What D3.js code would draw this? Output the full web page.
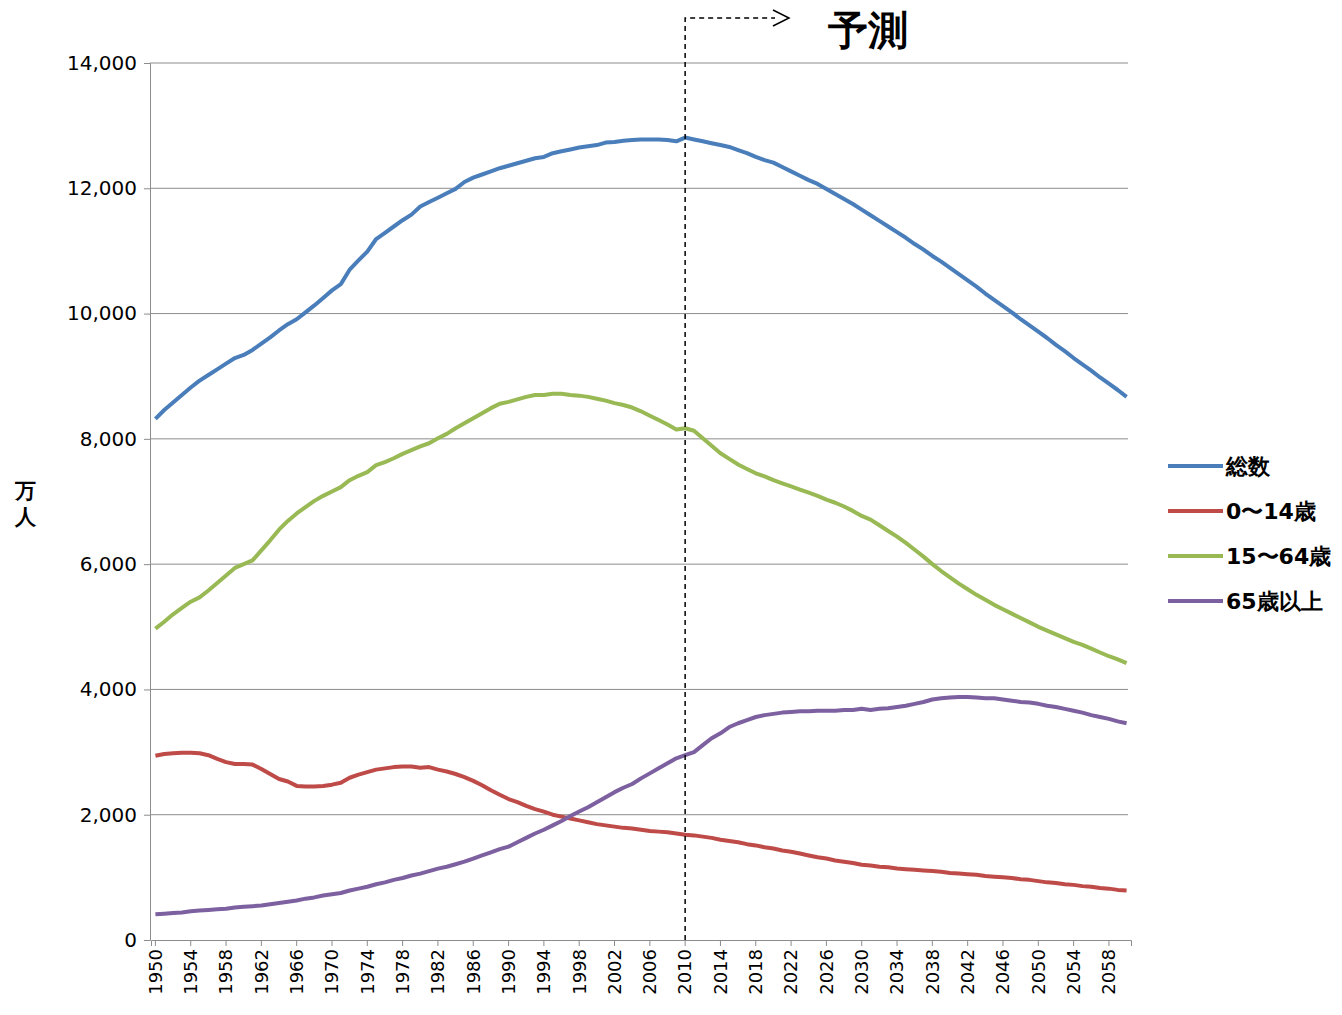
<!DOCTYPE html>
<html><head><meta charset="utf-8">
<script src="https://cdn.jsdelivr.net/npm/d3@7"></script>
<style>body{margin:0;background:#fff}text{font-family:"DejaVu Sans",sans-serif}</style>
</head><body><svg id="c" width="1342" height="1015"></svg>
<script>
const years = d3.range(1950, 2061);
const total = [8320,8460,8580,8700,8820,8930,9020,9110,9200,9290,
9340,9420,9520,9620,9730,9830,9910,10020,10130,10250,
10370,10470,10700,10850,10990,11190,11290,11390,11490,11580,
11710,11780,11850,11920,11990,12100,12170,12220,12270,12320,
12360,12400,12440,12480,12500,12560,12590,12620,12650,12670,
12690,12730,12740,12760,12770,12780,12780,12780,12770,12750,
12810,12780,12750,12720,12690,12660,12610,12560,12500,12450,
12410,12340,12270,12200,12130,12070,11990,11910,11830,11750,
11660,11570,11480,11390,11300,11210,11110,11020,10920,10830,
10730,10630,10530,10430,10320,10220,10120,10020,9910,9810,
9710,9610,9500,9400,9290,9190,9090,8980,8880,8780,8670];
const age0to14 = [2940,2970,2980,2990,2990,2980,2950,2890,2840,2810,
2810,2800,2730,2650,2570,2530,2460,2450,2450,2460,
2480,2510,2590,2640,2680,2720,2740,2760,2770,2770,
2750,2760,2720,2690,2650,2600,2540,2470,2390,2320,
2250,2200,2140,2090,2050,2000,1970,1940,1910,1880,
1850,1830,1810,1790,1780,1760,1740,1730,1720,1700,
1680,1670,1650,1630,1600,1580,1560,1530,1510,1480,
1460,1430,1410,1380,1350,1320,1300,1270,1250,1230,
1200,1190,1170,1160,1140,1130,1120,1110,1100,1090,
1070,1060,1050,1040,1020,1010,1000,990,970,960,
940,920,910,890,880,860,850,830,820,800,790];
const age15to64 = [4970,5080,5200,5300,5400,5470,5580,5700,5820,5940,
6000,6060,6220,6380,6550,6690,6810,6910,7010,7090,
7160,7230,7340,7410,7470,7580,7630,7690,7760,7820,
7880,7930,8010,8080,8170,8250,8330,8410,8490,8560,
8590,8630,8670,8700,8700,8720,8720,8700,8690,8670,
8640,8610,8570,8540,8500,8440,8370,8300,8230,8150,
8170,8130,8010,7890,7770,7680,7590,7520,7450,7400,
7340,7290,7240,7190,7140,7090,7030,6980,6920,6850,
6770,6710,6620,6530,6440,6340,6230,6120,6000,5890,
5790,5690,5600,5510,5430,5350,5280,5210,5140,5070,
5000,4940,4880,4820,4760,4710,4650,4590,4530,4480,4420];
const age65plus = [410,420,430,440,460,470,480,490,500,520,
530,540,550,570,590,610,630,660,680,710,
730,750,790,820,850,890,920,960,990,1030,
1060,1100,1140,1170,1210,1250,1300,1350,1400,1450,
1490,1560,1630,1700,1760,1830,1900,1980,2050,2120,
2200,2280,2360,2430,2490,2580,2660,2740,2820,2900,
2950,3000,3110,3220,3300,3400,3460,3510,3560,3590,
3610,3630,3640,3650,3650,3660,3660,3660,3670,3670,
3690,3670,3690,3700,3720,3740,3770,3800,3840,3860,
3870,3880,3880,3870,3860,3860,3840,3820,3800,3790,
3770,3740,3720,3690,3660,3630,3590,3560,3530,3490,3460];
const seriesNames = ['総数', '0〜14歳', '15〜64歳', '65歳以上'];
const seriesColors = ['#4a7ebb', '#be4b48', '#98b954', '#7d60a0'];
const yTicks = [0, 2000, 4000, 6000, 8000, 10000, 12000, 14000];

const svg = d3.select('#c');
const x = d3.scaleBand().domain(years).range([151, 1131]);
const y = d3.scaleLinear().domain([0, 14000]).range([940, 63]);
const cx = d => x(d) + x.bandwidth() / 2;

svg.append('g').selectAll('line').data(yTicks.slice(1)).join('line')
  .attr('x1', 150).attr('x2', 1128).attr('y1', y).attr('y2', y)
  .attr('stroke', '#8c8c8c').attr('stroke-width', 1);

const yAxis = svg.append('g').attr('transform', 'translate(150,0)')
  .call(d3.axisLeft(y).tickValues(yTicks).tickFormat(d3.format(',')).tickSize(6));
yAxis.selectAll('text').attr('font-size', 20).attr('fill', '#000').attr('dx', '-4');
yAxis.selectAll('path,line').attr('stroke', '#8c8c8c');

const xAxis = svg.append('g').attr('transform', 'translate(0,940)')
  .call(d3.axisBottom(x).tickValues(years.filter(d => (d - 1950) % 4 === 0)).tickSize(6));
xAxis.selectAll('path,line').attr('stroke', '#8c8c8c');
xAxis.selectAll('text').attr('font-size', 18).attr('fill', '#000')
  .attr('transform', 'rotate(-90)').attr('text-anchor', 'end')
  .attr('x', -9).attr('y', 0).attr('dy', '0.35em');

const line = vals => d3.line().x((d, i) => cx(years[i])).y(d => y(d))(vals);
[total, age0to14, age15to64, age65plus].forEach((vals, i) => {
  svg.append('path').attr('d', line(vals)).attr('fill', 'none')
    .attr('stroke', seriesColors[i]).attr('stroke-width', 4).attr('stroke-linejoin', 'round');
});

// forecast marker
const xf = cx(2010);
svg.append('path').attr('d', `M${xf},940V18H775`).attr('fill', 'none')
  .attr('stroke', '#000').attr('stroke-width', 1.5).attr('stroke-dasharray', '5,4');
svg.append('path').attr('d', 'M773,10L789,18L773,26').attr('fill', 'none')
  .attr('stroke', '#000').attr('stroke-width', 1.5);
svg.append('text').attr('x', 828).attr('y', 44).attr('font-size', 40).attr('font-weight', 'bold')
  .attr('font-family', 'Noto Sans CJK JP').text('予測');

// y label
svg.append('text').attr('x', 25).attr('y', 498).attr('text-anchor', 'middle').attr('font-size', 21)
  .attr('font-weight', 'bold').attr('font-family', 'Noto Sans CJK JP')
  .selectAll('tspan').data(['万', '人']).join('tspan')
  .attr('x', 25).attr('dy', (d, i) => i ? 26 : 0).text(d => d);

// legend
const lg = svg.append('g').selectAll('g').data(seriesNames).join('g')
  .attr('transform', (d, i) => `translate(1168,${466 + i * 45})`);
lg.append('line').attr('x1', 0).attr('x2', 55).attr('stroke', (d, i) => seriesColors[i]).attr('stroke-width', 4);
lg.append('text').attr('x', 58).attr('dy', '0.35em').attr('font-size', 22).attr('font-weight', 'bold')
  .attr('font-family', 'Noto Sans CJK JP').text(d => d);
</script></body></html>
